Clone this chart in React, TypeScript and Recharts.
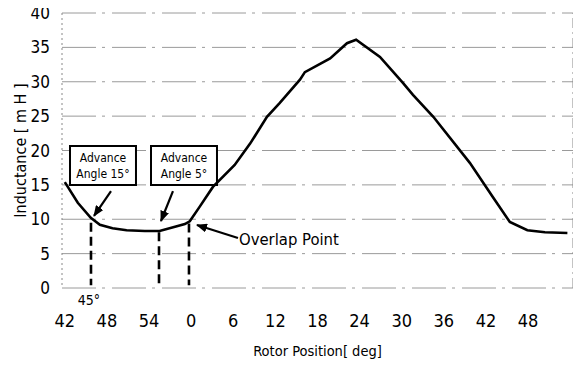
import React from 'react';
import {
  LineChart,
  Line,
  XAxis,
  YAxis,
  CartesianGrid,
  ReferenceLine,
  ReferenceArea,
} from 'recharts';

// rotor position, counted in degrees from the left edge (the "42" of the previous cycle)
const positions = [0, 1.85, 3.7, 5.0, 6.8, 8.8, 11.4, 13.5, 15.7, 17.1, 17.8, 19.2, 21.1, 24.2, 26.4, 28.8, 30.6, 33.5, 34.2, 37.8, 40.2, 41.5, 44.9, 48.2, 49.6, 52.5, 57.7, 61.0, 63.4, 65.9, 68.4, 71.6];
const inductance = [15.4, 12.4, 10.2, 9.2, 8.7, 8.4, 8.3, 8.3, 8.9, 9.3, 9.7, 11.8, 14.7, 17.9, 21.0, 24.9, 26.9, 30.3, 31.4, 33.4, 35.6, 36.1, 33.6, 29.8, 28.1, 24.9, 18.2, 13.2, 9.6, 8.4, 8.1, 8.0];

const xTicks = [0, 6, 12, 18, 24, 30, 36, 42, 48, 54, 60, 66];
const xTickLabels = ['42', '48', '54', '0', '6', '12', '18', '24', '30', '36', '42', '48'];
const yTicks = [0, 5, 10, 15, 20, 25, 30, 35, 40];

// dashed drop lines: position, top value, label under the axis
const dropLines = [
  { p: 3.73, top: 9.5, label: '45°' },
  { p: 13.42, top: 8.1, label: '' },
  { p: 17.69, top: 9.4, label: '' },
];

const boxes = [
  { x1: 0.74, x2: 10.14, lines: ['Advance', 'Angle 15°'] },
  { x1: 12.28, x2: 21.68, lines: ['Advance', 'Angle 5°'] },
];

const arrows = [
  { from: { x: 6.58, y: 14.1 }, to: { x: 4.16, y: 10.5 }, text: '' },
  { from: { x: 15.41, y: 14.1 }, to: { x: 13.7, y: 9.75 }, text: '' },
  { from: { x: 24.67, y: 7.27 }, to: { x: 18.83, y: 9.16 }, text: 'Overlap Point' },
];

const FONT = "'DejaVu Sans Condensed', 'Liberation Sans', Arial, sans-serif";

const data = positions.map((p, i) => ({ p, L: inductance[i] }));

const ArrowShape = (text: string) => (props: any) => {
  const { x1, y1, x2, y2 } = props;
  return (
    <g>
      <line x1={x1} y1={y1} x2={x2} y2={y2} stroke="#000" strokeWidth={2.2} markerEnd="url(#arrowHead)" />
      {text && (
        <text x={x1 + 1} y={y1 + 7} fontSize={16.5} fontFamily={FONT} fill="#000">
          {text}
        </text>
      )}
    </g>
  );
};

const DropShape = (label: string) => (props: any) => {
  const { x1, y1, x2, y2 } = props;
  const bottom = Math.max(y1, y2);
  return (
    <g>
      <line x1={x1} y1={y1} x2={x2} y2={y2} stroke="#000" strokeWidth={2.6} strokeDasharray="9 5" />
      {label && (
        <text x={x1 - 2} y={bottom + 20} fontSize={14} fontFamily={FONT} textAnchor="middle" fill="#000">
          {label}
        </text>
      )}
    </g>
  );
};

const BoxLabel = (lines: string[]) => (props: any) => {
  const { x, y, width } = props.viewBox;
  return (
    <g>
      {lines.map((t, i) => (
        <text key={i} x={x + width / 2} y={y + 16 + i * 16} fontSize={12} fontFamily={FONT} textAnchor="middle" fill="#000">
          {t}
        </text>
      ))}
    </g>
  );
};

export default function App() {
  return (
    <div style={{ margin: -8, width: 581, height: 369, position: 'relative', background: '#fff' }}>
      <svg width={0} height={0} style={{ position: 'absolute' }}>
        <defs>
          <marker id="arrowHead" markerUnits="userSpaceOnUse" markerWidth={11} markerHeight={9} refX={10} refY={4.5} orient="auto">
            <path d="M0,0 L11,4.5 L0,9 z" fill="#000" />
          </marker>
        </defs>
      </svg>
      <LineChart width={581} height={369} data={data} margin={{ top: 13, right: 8, bottom: 0, left: 0 }}>
        <CartesianGrid vertical={false} stroke="#9a9a9a" strokeDasharray="34 6 3 7" />
        <XAxis
          type="number"
          dataKey="p"
          domain={[-0.4, 72.4]}
          ticks={xTicks}
          tickFormatter={(v: number) => xTickLabels[xTicks.indexOf(v)]}
          allowDataOverflow
          axisLine={false}
          tickLine={false}
          height={81}
          tickMargin={20}
          tick={{ fontSize: 18, fontFamily: FONT, fill: '#000' }}
          label={{ value: 'Rotor Position[ deg]', position: 'insideBottom', offset: 13, style: { fontSize: 14.5, fontFamily: FONT, fill: '#000' } }}
        />
        <YAxis
          type="number"
          domain={[0, 40]}
          ticks={yTicks}
          width={62}
          axisLine={{ stroke: '#888', strokeDasharray: '2 3' }}
          tickLine={false}
          tickMargin={6}
          tick={{ fontSize: 17, fontFamily: FONT, fill: '#000' }}
          label={{ value: 'Inductance [ m H ]', angle: -90, position: 'insideLeft', offset: 20, style: { fontSize: 16, fontFamily: FONT, fill: '#000', textAnchor: 'middle' } }}
        />
        <ReferenceLine x={72.4} stroke="#888" strokeDasharray="10 4 2 4" />
        {boxes.map((b, i) => (
          <ReferenceArea
            key={i}
            x1={b.x1}
            x2={b.x2}
            y1={14.98}
            y2={20.65}
            fill="#fff"
            fillOpacity={1}
            stroke="#000"
            strokeWidth={2}
            label={{ content: BoxLabel(b.lines) }}
          />
        ))}
        {dropLines.map((d, i) => (
          <ReferenceLine
            key={i}
            segment={[{ x: d.p, y: d.top }, { x: d.p, y: 0.4 }]}
            shape={DropShape(d.label)}
          />
        ))}
        <Line
          type="linear"
          dataKey="L"
          stroke="#000"
          strokeWidth={2.6}
          dot={false}
          activeDot={false}
          isAnimationActive={false}
        />
        {arrows.map((a, i) => (
          <ReferenceLine key={i} segment={[a.from, a.to]} shape={ArrowShape(a.text)} />
        ))}
      </LineChart>
    </div>
  );
}
